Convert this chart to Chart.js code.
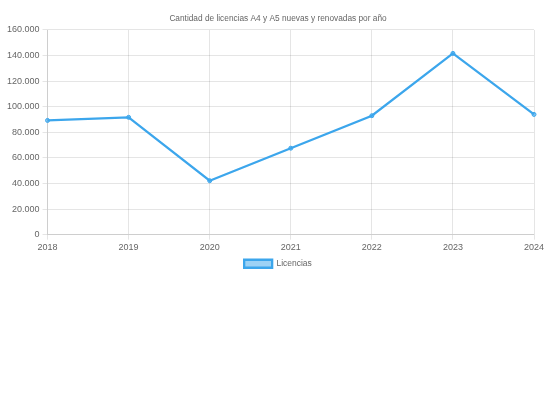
<!DOCTYPE html>
<html>
<head>
<meta charset="utf-8">
<script src="https://cdn.jsdelivr.net/npm/chart.js@4/dist/chart.umd.min.js"></script>
<style>
  html, body { margin: 0; padding: 0; background: #fff; }
  #wrap { width: 552px; height: 279px; position: relative; }
</style>
</head>
<body>
<div id="wrap"><canvas id="chart"></canvas></div>
<script>
// Licencias A4 y A5 por año
const years = ['2018', '2019', '2020', '2021', '2022', '2023', '2024'];
const licencias = [89300, 91700, 42200, 67600, 93000, 141700, 94000];
const yTicks = { min: 0, max: 160000, step: 20000 };

const blue = 'rgb(60,166,236)';
const FONT = '"Liberation Sans", Arial, Helvetica, sans-serif';

// miles con punto: 160000 -> 160.000
function fmt(v) {
  return String(v).replace(/\B(?=(\d{3})+(?!\d))/g, '.');
}

new Chart(document.getElementById('chart'), {
  type: 'line',
  data: {
    labels: years,
    datasets: [{
      label: 'Licencias',
      data: licencias,
      borderColor: blue,
      backgroundColor: 'rgba(60,166,236,0.5)',
      pointBackgroundColor: 'rgba(60,166,236,0.6)',
      pointBorderColor: blue,
      borderWidth: 2.3,
      pointRadius: 2,
      pointBorderWidth: 1,
      fill: false,
      tension: 0,
    }],
  },
  options: {
    responsive: true,
    maintainAspectRatio: false,
    animation: false,
    layout: { padding: { left: 4, right: 0, top: 0, bottom: 1 } },
    plugins: {
      title: {
        display: true,
        text: 'Cantidad de licencias A4 y A5 nuevas y renovadas por año',
        color: '#666',
        font: { family: FONT, size: 8.3, weight: 'normal' },
        padding: { top: 14, bottom: 6 },
      },
      legend: {
        position: 'bottom',
        labels: {
          color: '#666',
          font: { family: FONT, size: 8.5 },
          boxWidth: 28,
          boxHeight: 8,
          padding: 5,
        },
      },
      tooltip: { enabled: false },
    },
    scales: {
      x: {
        ticks: { color: '#666', font: { family: FONT, size: 9 }, maxRotation: 0, padding: 2 },
        grid: { color: 'rgba(0,0,0,0.1)', tickLength: 5 },
        border: { color: 'rgba(0,0,0,0.1)' },
      },
      y: {
        min: yTicks.min,
        max: yTicks.max,
        ticks: {
          stepSize: yTicks.step,
          color: '#666',
          font: { family: FONT, size: 9 },
          padding: 3,
          callback: v => fmt(v),
        },
        grid: { color: 'rgba(0,0,0,0.1)', tickLength: 5 },
        border: { color: 'rgba(0,0,0,0.1)' },
      },
      // empty right gutter, keeps the title centred on the full width
      gap: {
        type: 'linear',
        position: 'right',
        display: true,
        grid: { display: false, drawTicks: false },
        border: { display: false },
        ticks: { display: false },
        afterFit: s => { s.width = 18; },
      },
    },
  },
});
</script>
</body>
</html>
